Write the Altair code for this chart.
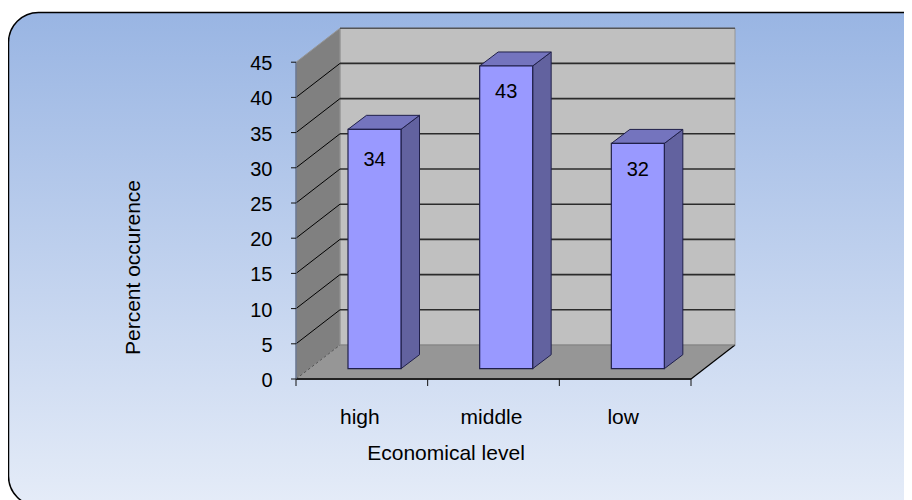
import altair as alt
import pandas as pd

categories = ["high", "middle", "low"]
values = [34, 43, 32]
y_ticks = [0, 5, 10, 15, 20, 25, 30, 35, 40, 45]
label_drop = [4.1, 3.5, 3.5]

X_UNIT, Y_UNIT = 131.67, 7.04
X_MIN, X_MAX = (8 - 296) / X_UNIT, (904 - 296) / X_UNIT
Y_MIN, Y_MAX = (379 - 500) / Y_UNIT, (379 - 8) / Y_UNIT
DX, DY = 44 / X_UNIT, 34 / Y_UNIT
BAR_LEFT, BAR_W = 52 / X_UNIT, 53 / X_UNIT
BAR_BASE = 10.3 / Y_UNIT
BDX, BDY = 18.5 / X_UNIT, 14 / Y_UNIT
TOP = max(y_ticks)
N = len(categories)
FONT = "Liberation Sans"

sx = alt.Scale(domain=[X_MIN, X_MAX], nice=False, zero=False)
sy = alt.Scale(domain=[Y_MIN, Y_MAX], nice=False, zero=False)
X = alt.X("x:Q", scale=sx, axis=None)
Y = alt.Y("y:Q", scale=sy, axis=None)
X2 = alt.X2("x2:Q")
Y2 = alt.Y2("y2:Q")


def box(x, x2, y, y2, **mark):
    return alt.Chart(pd.DataFrame([dict(x=x, x2=x2, y=y, y2=y2)])).mark_rect(**mark).encode(X, X2, Y, Y2)


def seg(rows, **mark):
    return alt.Chart(pd.DataFrame(rows, columns=["x", "x2", "y", "y2"])).mark_rule(**mark).encode(X, X2, Y, Y2)


def side(rows, **mark):
    df = pd.DataFrame(rows, columns=["id", "x", "y", "y2"])
    return alt.Chart(df).mark_area(orient="vertical", **mark).encode(X, Y, Y2, detail="id:N")


def flat(rows, **mark):
    df = pd.DataFrame(rows, columns=["id", "y", "x", "x2"])
    return alt.Chart(df).mark_area(orient="horizontal", **mark).encode(Y, X, X2, detail="id:N")


def text(rows, **mark):
    df = pd.DataFrame(rows, columns=["x", "y", "t"])
    return alt.Chart(df).mark_text(font=FONT, color="#000000", **mark).encode(X, Y, text="t:N")


panel = box(X_MIN + 0.5 / X_UNIT, (935 - 296) / X_UNIT, (379 - 506) / Y_UNIT, (379 - 12.5) / Y_UNIT,
            cornerRadius=30, stroke="#000000", strokeWidth=1.5,
            color=alt.Gradient(gradient="linear", x1=0, x2=0, y1=0, y2=1,
                               stops=[alt.GradientStop(color="#99B5E3", offset=0),
                                      alt.GradientStop(color="#E5ECF8", offset=1)]))

back = box(DX, N + DX, DY, TOP + DY, color="#C0C0C0", stroke="#969696", strokeWidth=1)
wall = side([(0, 0, 0, TOP), (0, DX, DY, TOP + DY)], color="#808080", stroke="#969696", strokeWidth=1)
floor = flat([(0, 0, 0, N), (0, DY, DX, N + DX)], color="#969696")

back_top = seg([(DX, N + DX, TOP + DY, TOP + DY)], color="#333333", strokeWidth=1)
back_lines = seg([(DX, N + DX, t + DY, t + DY) for t in y_ticks[1:-1]], color="#2b2b2b", strokeWidth=1.6)
wall_lines = seg([(0, DX, t, t + DY) for t in y_ticks[1:-1]], color="#000000", strokeWidth=1)
edges_light = seg([(0, DX, 0, DY)], color="#555555", strokeWidth=1, strokeDash=[3, 2])
edge_right = seg([(N, N + DX, 0, DY)], color="#000000", strokeWidth=1.2)
floor_back = seg([(DX, N + DX, DY, DY)], color="#808080", strokeWidth=1)
front = seg([(0, N, 0, 0)], color="#222222", strokeWidth=1.8)
axis_left = seg([(0, 0, 0, TOP)], color="#5F7090", strokeWidth=1.2)
y_tick_marks = seg([(-5 / X_UNIT, 0, t, t) for t in y_ticks], color="#111111", strokeWidth=1)
x_tick_marks = seg([(i, i, 0, -7 / Y_UNIT) for i in range(N + 1)], color="#111111", strokeWidth=1)

bars_side, bars_top, bars_front = [], [], []
for i, v in enumerate(values):
    l, r = i + BAR_LEFT, i + BAR_LEFT + BAR_W
    b, t = BAR_BASE, BAR_BASE + v
    bars_side += [(i, r, b, t), (i, r + BDX, b + BDY, t + BDY)]
    bars_top += [(i, t, l, r), (i, t + BDY, l + BDX, r + BDX)]
    bars_front.append(box(l, r, b, t, color="#9999FF", stroke="#20204A", strokeWidth=1.2))

bar_side = side(bars_side, color="#62629F", stroke="#20204A", strokeWidth=1)
bar_top = flat(bars_top, color="#7474BE", stroke="#20204A", strokeWidth=1)

value_labels = text([(i + BAR_LEFT + BAR_W / 2, BAR_BASE + v - d, str(v))
                     for i, (v, d) in enumerate(zip(values, label_drop))],
                    fontSize=20, align="center", baseline="middle", dy=1.5)
y_labels = text([(-23.5 / X_UNIT, t, str(t)) for t in y_ticks], fontSize=20, align="right", baseline="middle", dy=2)
x_labels = text([(i + 0.485, -38 / Y_UNIT, c) for i, c in enumerate(categories)],
                fontSize=21, align="center", baseline="middle", dy=1)
x_title = text([(150 / X_UNIT, -74 / Y_UNIT, "Economical level")], fontSize=21, align="center", baseline="middle", dy=1)
y_title = text([(-162.5 / X_UNIT, 111.5 / Y_UNIT, "Percent occurence")],
               fontSize=21, align="center", baseline="middle", angle=270)

chart = alt.layer(
    panel, back, wall, floor, back_top, back_lines, wall_lines, edges_light, edge_right, floor_back,
    bar_side, bar_top, *bars_front, front, axis_left, y_tick_marks, x_tick_marks,
    value_labels, y_labels, x_labels, x_title, y_title,
).properties(
    width=896, height=492, padding=0, autosize=alt.AutoSizeParams(type="none"),
    background="#FFFFFF",
).configure_view(stroke=None)

chart.save("out.html", embed_options={"renderer": "svg", "actions": False})
